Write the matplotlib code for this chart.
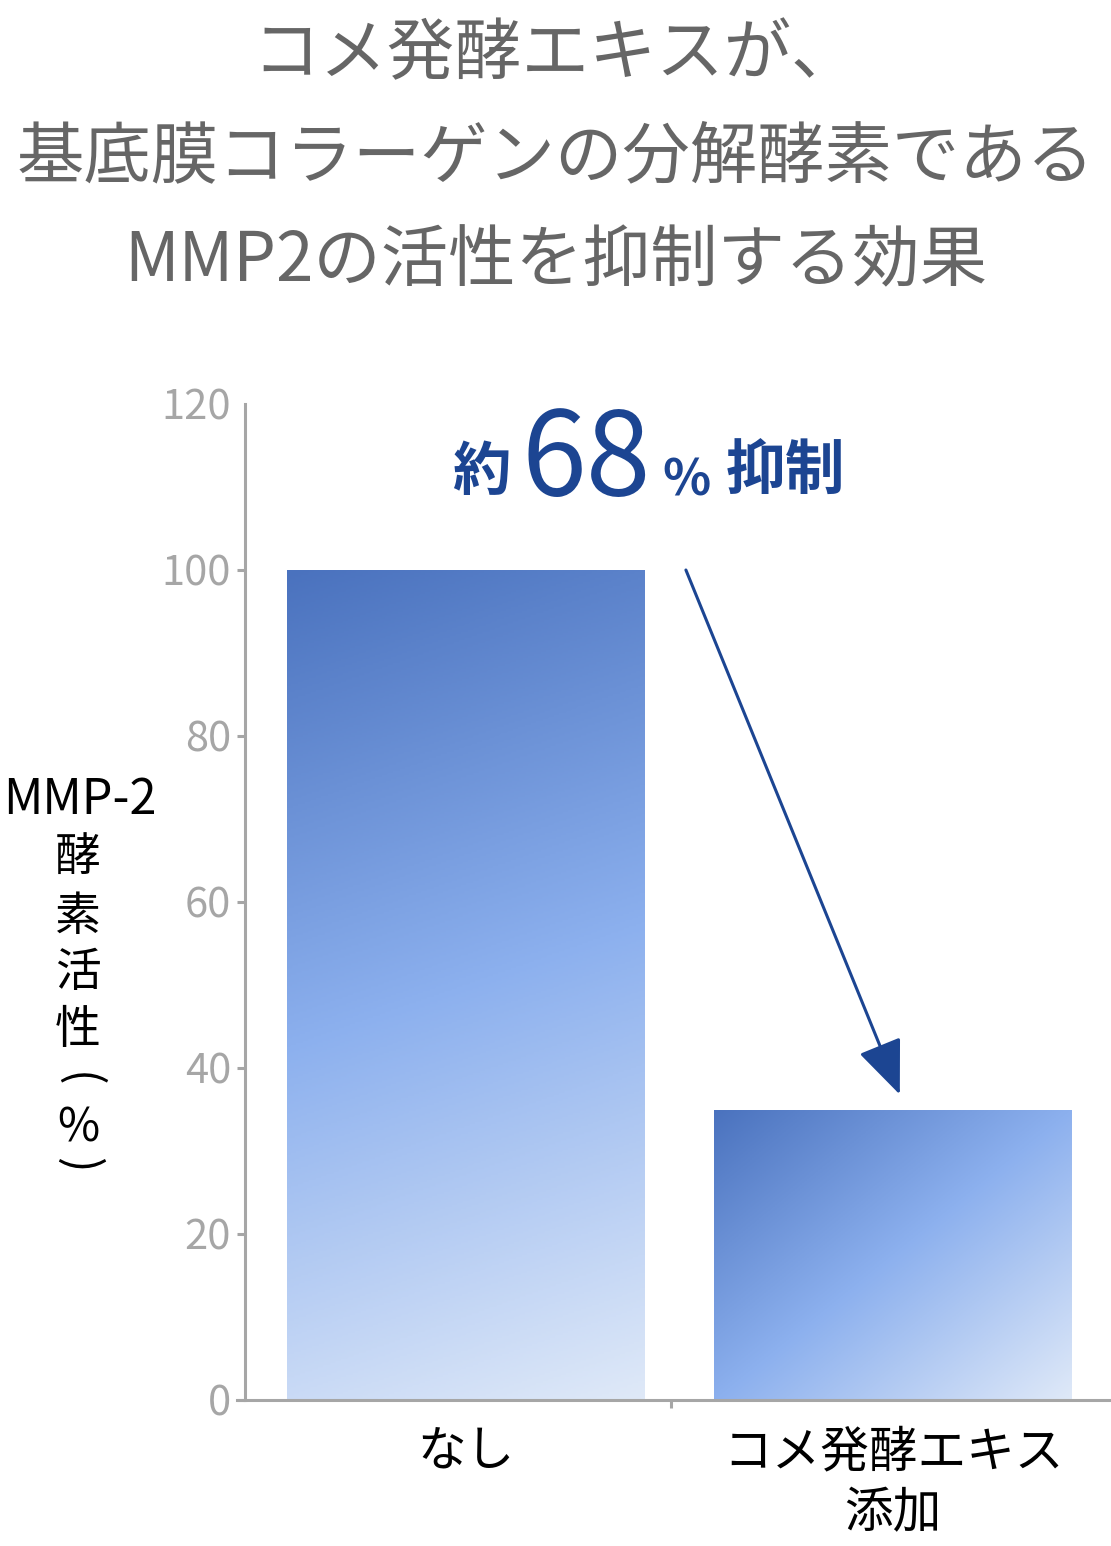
import numpy as np
import matplotlib.pyplot as plt
from matplotlib.colors import LinearSegmentedColormap

plt.rcParams['font.family'] = ['Noto Sans CJK JP', 'DejaVu Sans']

# データ
categories = ["なし", "コメ発酵エキス\n添加"]
values = [100, 35]
y_ticks = [0, 20, 40, 60, 80, 100, 120]
title_lines = ["コメ発酵エキスが、", "基底膜コラーゲンの分解酵素である", "MMP2の活性を抑制する効果"]
ylabel_top = "MMP-2"
ylabel_chars = ["酵", "素", "活", "性", "(", "%", ")"]

W, H = 1111, 1546
gray = "#a6a6a6"
navy = "#1c4592"
grad_cmap = LinearSegmentedColormap.from_list("bar", ["#4a72be", "#8cb0ee", "#dfe9f8"])
# 横方向の重み (棒ごとのグラデーションの傾き)
grad_tilt = [0.15, 1.0]

fig = plt.figure(figsize=(W / 100, H / 100), dpi=100)
ax = fig.add_axes([237 / W, 1 - 1400 / H, 1 - 237 / W, (1400 - 404) / H])

x = np.arange(len(values))
width = 358 / 427
bars = ax.bar(x, values, width=width, facecolor="none", edgecolor="none")

for bar, tilt in zip(bars, grad_tilt):
    x0, y0 = bar.get_x(), bar.get_y()
    w, h = bar.get_width(), bar.get_height()
    u = np.linspace(0, 1, 200)[None, :]
    v = np.linspace(0, 1, 400)[:, None]
    g = (tilt * u + v) / (tilt + 1)
    im = ax.imshow(g, extent=[x0, x0 + w, y0, y0 + h], origin="upper",
                   cmap=grad_cmap, vmin=0, vmax=1, aspect="auto", zorder=2)
    im.set_clip_path(bar)

ax.set_xlim((237 - 466) / 427, (W - 466) / 427)
ax.set_ylim(0, 120)

for s in ["top", "right"]:
    ax.spines[s].set_visible(False)
ax.spines["left"].set_position(("axes", 8 / (W - 237)))
for s in ["left", "bottom"]:
    ax.spines[s].set_color(gray)
    ax.spines[s].set_linewidth(2.2)

ax.set_yticks(y_ticks)
ax.set_yticklabels([str(t) for t in y_ticks])
ax.tick_params(axis="y", colors=gray, labelsize=30, length=6, width=2.2, pad=4)
ax.get_yticklines()[-2].set_visible(False)

ax.set_xticks(x)
ax.set_xticklabels(categories, fontsize=35, linespacing=1.3)
ax.tick_params(axis="x", length=0, pad=20, labelcolor="black")
ax.set_xticks([0.48], minor=True)
ax.tick_params(axis="x", which="minor", length=6, width=2.2, color=gray)
for lab in ax.get_xticklabels():
    lab.set_multialignment("center")

ax.set_facecolor("none")

# 矢印
ax.annotate("", xy=(1.016, values[1] + 1.8), xytext=(0.515, values[0]),
            arrowprops=dict(arrowstyle="-|>,head_length=0.68,head_width=0.28",
                            mutation_scale=50, color=navy, lw=2.2,
                            shrinkA=0, shrinkB=0), zorder=4)

# タイトル
for line, yc in zip(title_lines, [55, 158, 262]):
    fig.text(0.5, 1 - yc / H, line, ha="center", va="center",
             fontsize=48.5, color="#666666")

# 約68%抑制
fig.text(452 / W, 1 - 490 / H, "約", fontsize=42, fontweight="bold", color=navy,
         ha="left", va="baseline")
fig.text(522 / W, 1 - 495 / H, "68", fontsize=84, color=navy,
         ha="left", va="baseline")
fig.text(662 / W, 1 - 495 / H, "%", fontsize=36, fontweight="bold", color=navy,
         ha="left", va="baseline")
fig.text(726 / W, 1 - 490 / H, "抑制", fontsize=43, fontweight="bold", color=navy,
         ha="left", va="baseline")

# 縦軸ラベル
fig.text(80 / W, 1 - 800 / H, ylabel_top, fontsize=35, color="black",
         ha="center", va="center")
for ch, yc in zip(ylabel_chars, [858, 917, 973, 1030, 1080, 1128, 1165]):
    rot = -90 if ch in "()" else 0
    fig.text(78 / W, 1 - yc / H, ch, fontsize=33, color="black",
             ha="center", va="center", rotation=rot)

fig.savefig("out.png", dpi=100, facecolor="white")
